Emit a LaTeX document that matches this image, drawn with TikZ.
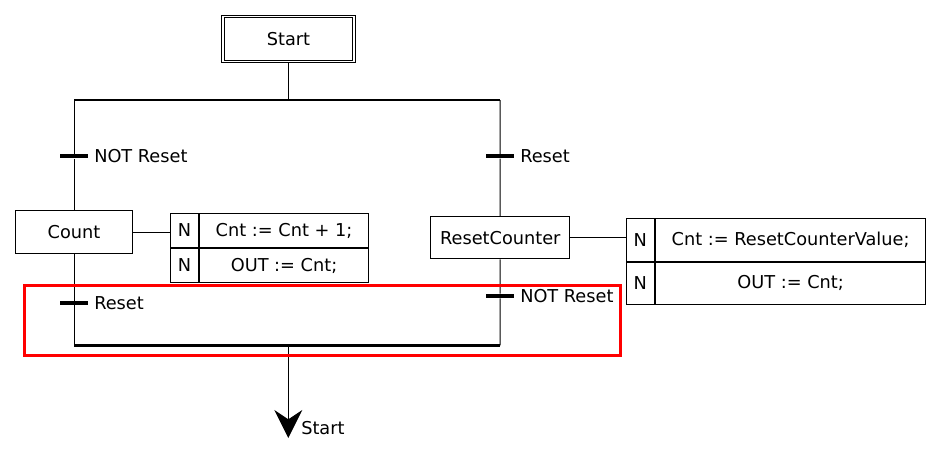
\documentclass[tikz,border=0pt]{standalone}
\usepackage{fontspec}
\setmainfont{DejaVu Sans}
\usetikzlibrary{arrows.meta,positioning}

\begin{document}
\begin{tikzpicture}[x=0.75pt,y=-0.75pt,
	every node/.style={font=\fontsize{13.3}{16}\selectfont, inner sep=0pt},
	initstep/.style={draw, double, double distance=0.9pt, line width=0.75pt, minimum width=98.3pt, minimum height=34.1pt},
	stepbox/.style={draw, line width=0.75pt, minimum height=32pt},
	qual/.style={draw, line width=0.75pt, minimum width=21pt},
	act/.style={draw, line width=0.75pt},
	trans/.style={fill=black, minimum width=20.6pt, minimum height=3pt},
	lbl/.style={inner sep=0pt, label distance=4.5pt}]
	\useasboundingbox (0,0) rectangle (941,460);

	\node[initstep] (start) at (288.5,39) {Start};
	\coordinate (divL) at (74,100);
	\coordinate (divR) at (500,100);
	\coordinate (divM) at (288.5,100);

	\node[trans, label={[lbl]right:NOT Reset}] (t1) at (74,156.3) {};
	\node[trans, label={[lbl]right:Reset}] (t2) at (500,156.3) {};

	\node[stepbox, minimum width=88.3pt, minimum height=32.5pt] (count) at (74,232.3) {Count};
	\node[stepbox, minimum width=104pt, minimum height=31.7pt] (resetcnt) at (500.3,237.8) {ResetCounter};

	\node[qual, minimum height=25.5pt, anchor=north west] (cq1) at (170,213) {N};
	\node[act, minimum width=126.8pt, minimum height=25.5pt, right=0pt of cq1] (ca1) {Cnt := Cnt + 1;};
	\node[qual, minimum height=25.5pt, below=0pt of cq1] (cq2) {N};
	\node[act, minimum width=126.8pt, minimum height=25.5pt, right=0pt of cq2] (ca2) {OUT := Cnt;};

	\node[qual, minimum width=21.2pt, minimum height=31.9pt, anchor=north west] (rq1) at (625.7,218) {N};
	\node[act, minimum width=202.7pt, minimum height=31.9pt, right=0pt of rq1] (ra1) {Cnt := ResetCounterValue;};
	\node[qual, minimum width=21.2pt, minimum height=31.9pt, below=0pt of rq1] (rq2) {N};
	\node[act, minimum width=202.7pt, minimum height=31.9pt, right=0pt of rq2] (ra2) {OUT := Cnt;};

	\node[trans, label={[lbl]right:Reset}] (t3) at (74,303) {};
	\node[trans, label={[lbl]right:NOT Reset}] (t4) at (500,296) {};

	\coordinate (convL) at (74,345.3);
	\coordinate (convR) at (500,345.3);
	\coordinate (convM) at (288.3,345.3);
	\coordinate (jump) at (288.3,438);
	\node[anchor=west] (jumplbl) at (301,428) {Start};

	\begin{scope}[every path/.style={line width=0.75pt}]
		\draw (start) -- (divM);
		\draw (divL) -- (t1) -- (count) -- (t3) -- (convL);
		\draw (divR) -- (t2) -- (resetcnt) -- (t4) -- (convR);
		\draw (count.east) -- (count.east -| cq1.west);
		\draw (resetcnt.east) -- (resetcnt.east -| rq1.west);
		\draw[-{Stealth[length=21pt,width=21pt,inset=7pt]}] (convM) -- (jump);
	\end{scope}
	\draw[line width=1.8pt] (divL) -- (divR);
	\draw[line width=1.8pt] (convL) -- (convR);

	\draw[red, line width=2.2pt] (24.5,285.5) rectangle (620.5,355.5);
\end{tikzpicture}
\end{document}
